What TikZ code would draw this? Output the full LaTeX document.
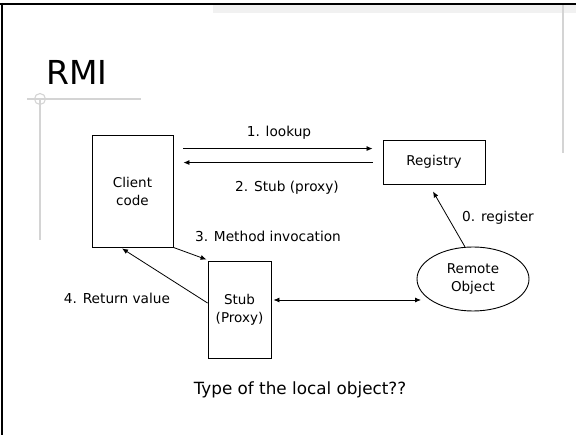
\documentclass[tikz,border=0pt]{standalone}
\usepackage{fontspec}
\setmainfont{DejaVu Sans}
\usetikzlibrary{arrows.meta,shapes.geometric}
\definecolor{guide}{HTML}{D4D4D4}
\definecolor{band}{HTML}{F1F1F1}
\tikzset{
  box/.style={draw=black, line width=0.9pt, fill=white, inner sep=0pt,
    align=center, font=\fontsize{13.5}{18}\selectfont},
  oval/.style={box, ellipse},
  lbl/.style={inner sep=0pt, font=\fontsize{13.7}{16}\selectfont},
  arr/.style={draw=black, line width=0.8pt, -{Latex[length=6pt,width=5pt]}},
  biarr/.style={draw=black, line width=0.8pt, {Latex[length=6pt,width=5pt]}-{Latex[length=6pt,width=5pt]}},
}
\begin{document}
\begin{tikzpicture}[x=1pt,y=-1pt]
\useasboundingbox (0,0) rectangle (576,435);

% slide frame and decorations
\fill[band] (213,5.3) rectangle (576,13);
\draw[guide, line width=1.5pt] (563,5) -- (563,153);
\draw[black, line width=2.5pt] (0,4) -- (576,4);
\draw[black, line width=2.4pt] (2.2,2.8) -- (2.2,435);
\draw[guide, line width=1.3pt] (27,99) -- (141,99);
\draw[guide, line width=1.3pt] (40,99) -- (40,240);
\draw[guide, line width=1.1pt] (40,99) circle (5.5);

% title
\node[anchor=base west, inner sep=0pt, font=\fontsize{33}{38}\selectfont] (title) at (46,85) {RMI};

% nodes
\node[box, minimum width=81pt, minimum height=112pt] (client) at (132.5,191) {Client\\code};
\node[box, minimum width=102pt, minimum height=44pt] (registry) at (434,162) {Registry};
\node[box, minimum width=63pt, minimum height=97pt] (stub) at (239.5,309.5) {Stub\\(Proxy)};
\node[oval, minimum width=112pt, minimum height=64pt] (remote) at (473,279) {Remote\\Object};

% connectors
\draw[arr] ([shift={(10,14)}]client.north east) -- ([shift={(-10,9)}]registry.north west);
\draw[arr] ([shift={(-10,23)}]registry.north west) -- ([shift={(10,28)}]client.north east);
\draw[arr] (client.south east) -- ([shift={(-1,-1)}]stub.north west);
\draw[arr] ([shift={(0,-6.5)}]stub.west) -- ([shift={(-10.5,1)}]client.south);
\draw[biarr] ([shift={(2,-9.5)}]stub.east) -- ([shift={(-52,21)}]remote.center);
\draw[arr] (remote.104) -- ([shift={(-1,7)}]registry.south);

% labels
\node[lbl] (l1) at (279,133) {1. lookup};
\node[lbl] (l2) at (287,188) {2. Stub (proxy)};
\node[lbl] (l3) at (268,236) {3. Method invocation};
\node[lbl] (l4) at (117,298) {4. Return value};
\node[lbl] (l0) at (498,218) {0. register};
\node[inner sep=0pt, font=\fontsize{16.8}{20}\selectfont] (q) at (300,390) {Type of the local object??};
\end{tikzpicture}
\end{document}
